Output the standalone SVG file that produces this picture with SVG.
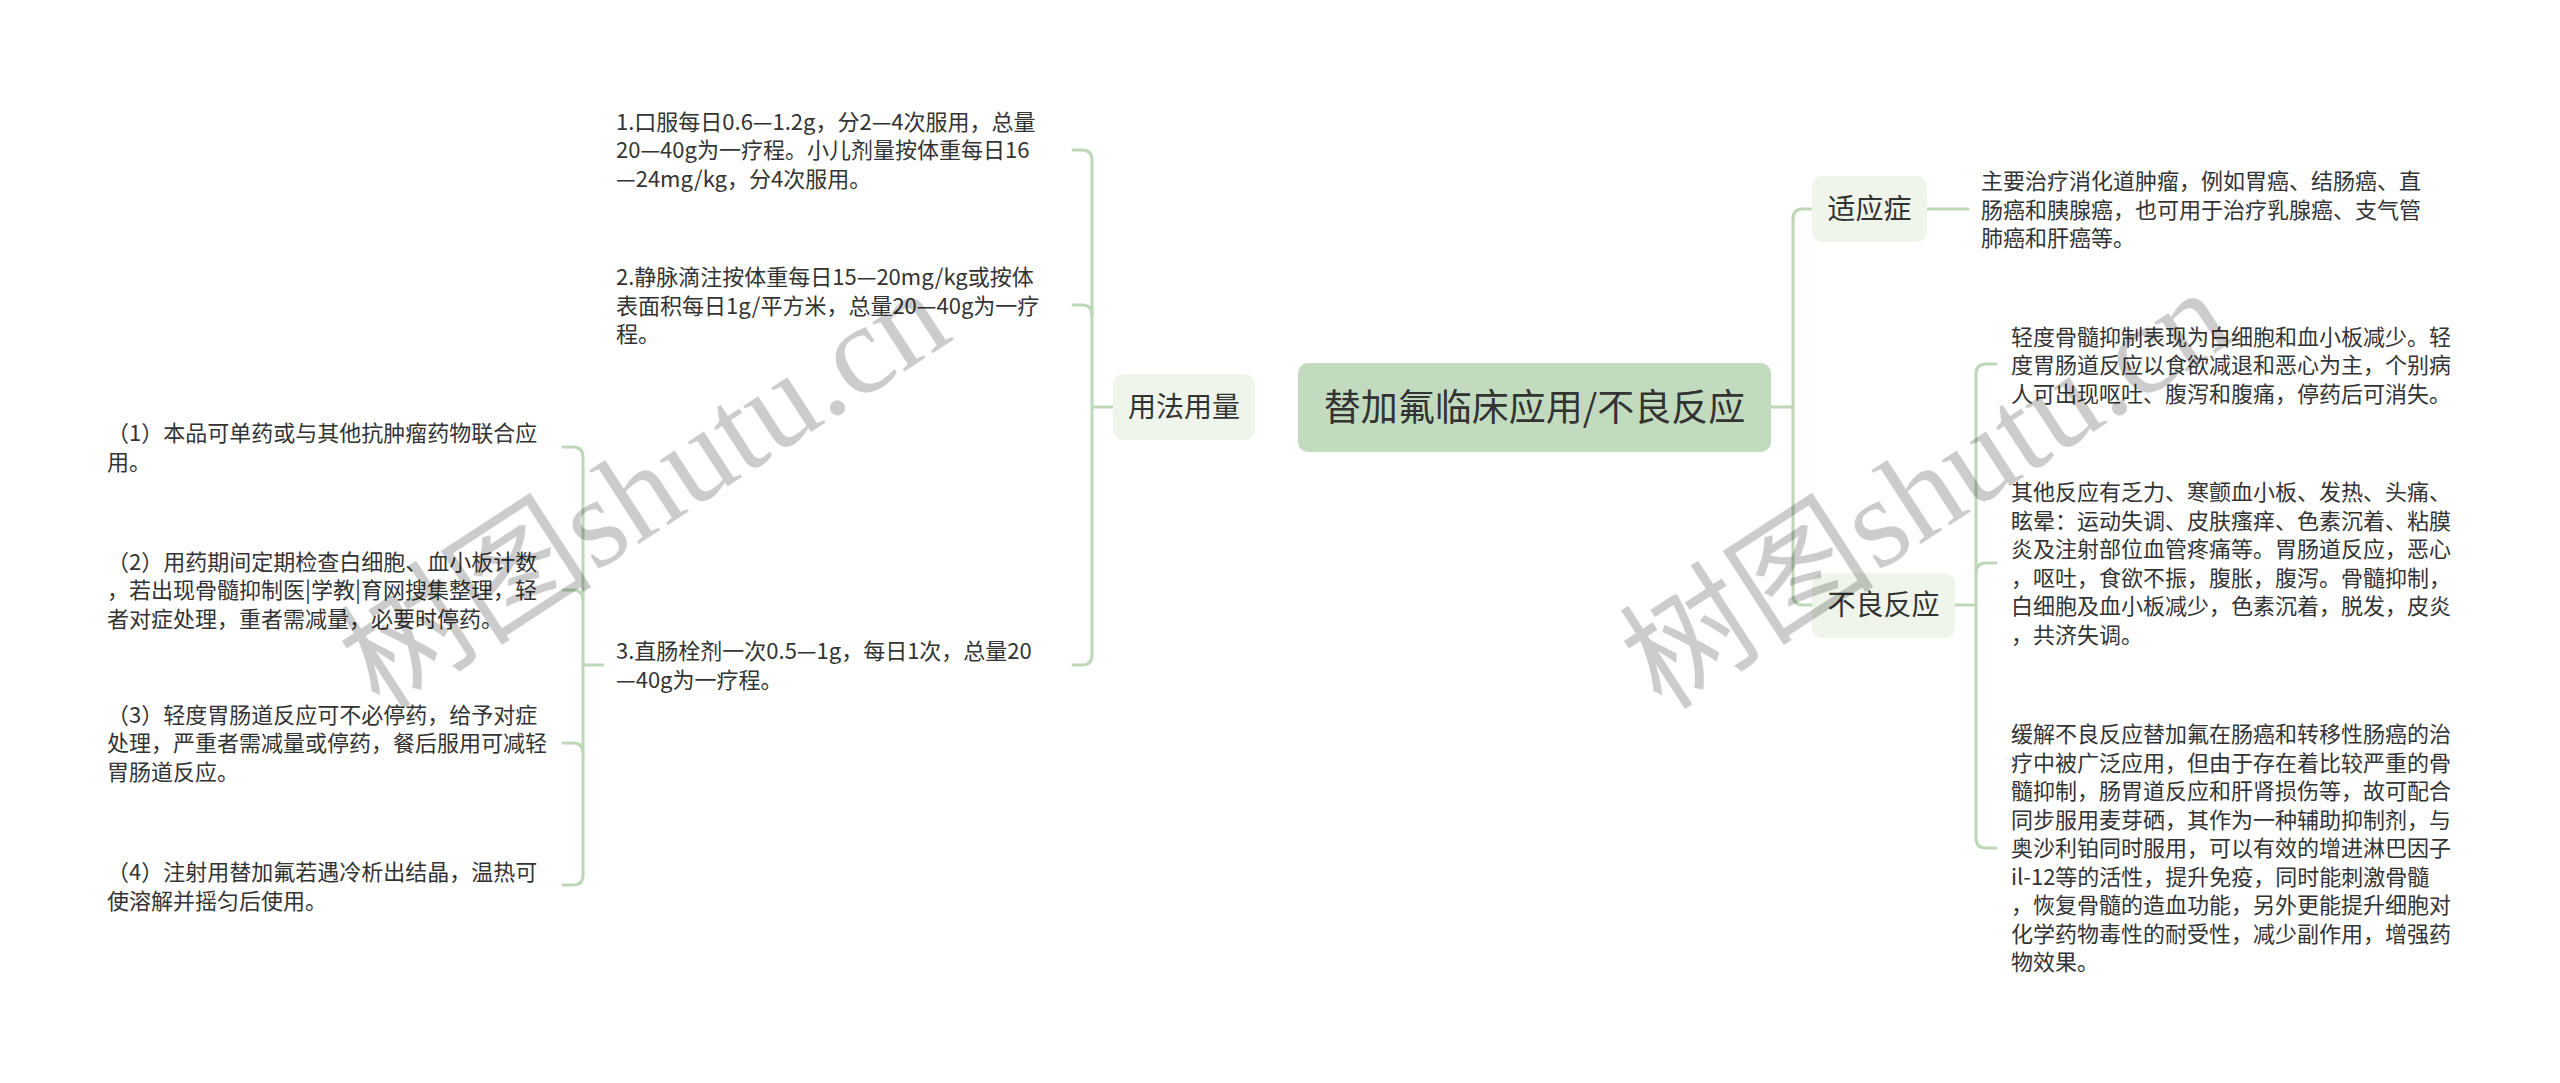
<svg xmlns="http://www.w3.org/2000/svg" width="2560" height="1083" viewBox="0 0 2560 1083">
<style>
.t{font-family:"Noto Sans CJK SC","Liberation Sans",sans-serif;font-size:22px;fill:#333}
.sub{font-family:"Noto Sans CJK SC","Liberation Sans",sans-serif;font-size:28px;fill:#333;text-anchor:middle}
.main{font-family:"Noto Sans CJK SC","Liberation Sans",sans-serif;font-size:37px;fill:#333;text-anchor:middle}
.ln{fill:none;stroke:#bdd7b8;stroke-width:3;stroke-linecap:round;stroke-linejoin:round}
.subbox{fill:#eff5ea}
.mainbox{fill:#c2dbbe}
.wm{font-family:"Liberation Serif","Noto Sans CJK SC",serif;font-size:128px;fill:#000;fill-opacity:0.2}
</style>
<rect width="2560" height="1083" fill="#fff"/>
<g id="connectors">
<path class="ln" d="M1113,407 H1092"/>
<path class="ln" d="M1073,150 H1082 Q1092,150 1092,160 V655 Q1092,665 1082,665 H1073"/>
<path class="ln" d="M1073,305 H1082 Q1092,305 1092,315"/>
<path class="ln" d="M603,665 H583"/>
<path class="ln" d="M563,447 H573 Q583,447 583,457 V875 Q583,885 573,885 H563"/>
<path class="ln" d="M563,590 H573 Q583,590 583,600"/>
<path class="ln" d="M563,743 H573 Q583,743 583,753"/>
<path class="ln" d="M1771,407 H1793"/>
<path class="ln" d="M1812,209 H1803 Q1793,209 1793,219 V595 Q1793,605 1803,605 H1812"/>
<path class="ln" d="M1927,209 H1968"/>
<path class="ln" d="M1955,605 H1976"/>
<path class="ln" d="M1996,364 H1986 Q1976,364 1976,374 V838 Q1976,848 1986,848 H1996"/>
<path class="ln" d="M1996,563 H1986 Q1976,563 1976,573"/>
</g>
<g id="center">
<rect class="mainbox" x="1298" y="363" width="473" height="89" rx="10"/>
<text class="main" x="1534.5" y="421">替加氟临床应用/不良反应</text>
</g>
<g id="usage">
<rect class="subbox" x="1113" y="374" width="142" height="66" rx="10"/>
<text class="sub" x="1184" y="417">用法用量</text>
</g>
<g id="indication">
<rect class="subbox" x="1812" y="176" width="115" height="66" rx="10"/>
<text class="sub" x="1869.5" y="219">适应症</text>
</g>
<g id="adverse">
<rect class="subbox" x="1812" y="573" width="143" height="65" rx="10"/>
<text class="sub" x="1883.5" y="615">不良反应</text>
</g>
<g id="indication-text">
<text class="t" x="1981" y="189">主要治疗消化道肿瘤，例如胃癌、结肠癌、直</text>
<text class="t" x="1981" y="217.5">肠癌和胰腺癌，也可用于治疗乳腺癌、支气管</text>
<text class="t" x="1981" y="246">肺癌和肝癌等。</text>
</g>
<g id="adverse-1">
<text class="t" x="2011" y="344.5">轻度骨髓抑制表现为白细胞和血小板减少。轻</text>
<text class="t" x="2011" y="373">度胃肠道反应以食欲减退和恶心为主，个别病</text>
<text class="t" x="2011" y="401.5">人可出现呕吐、腹泻和腹痛，停药后可消失。</text>
</g>
<g id="adverse-2">
<text class="t" x="2011" y="500">其他反应有乏力、寒颤血小板、发热、头痛、</text>
<text class="t" x="2011" y="528.5">眩晕：运动失调、皮肤瘙痒、色素沉着、粘膜</text>
<text class="t" x="2011" y="557">炎及注射部位血管疼痛等。胃肠道反应，恶心</text>
<text class="t" x="2011" y="585.5">，呕吐，食欲不振，腹胀，腹泻。骨髓抑制，</text>
<text class="t" x="2011" y="614">白细胞及血小板减少，色素沉着，脱发，皮炎</text>
<text class="t" x="2011" y="642.5">，共济失调。</text>
</g>
<g id="adverse-3">
<text class="t" x="2011" y="742">缓解不良反应替加氟在肠癌和转移性肠癌的治</text>
<text class="t" x="2011" y="770.5">疗中被广泛应用，但由于存在着比较严重的骨</text>
<text class="t" x="2011" y="799">髓抑制，肠胃道反应和肝肾损伤等，故可配合</text>
<text class="t" x="2011" y="827.5">同步服用麦芽硒，其作为一种辅助抑制剂，与</text>
<text class="t" x="2011" y="856">奥沙利铂同时服用，可以有效的增进淋巴因子</text>
<text class="t" x="2011" y="884.5">il-12等的活性，提升免疫，同时能刺激骨髓</text>
<text class="t" x="2011" y="913">，恢复骨髓的造血功能，另外更能提升细胞对</text>
<text class="t" x="2011" y="941.5">化学药物毒性的耐受性，减少副作用，增强药</text>
<text class="t" x="2011" y="970">物效果。</text>
</g>
<g id="usage-1">
<text class="t" x="616" y="129.5">1.口服每日0.6—1.2g，分2—4次服用，总量</text>
<text class="t" x="616" y="158">20—40g为一疗程。小儿剂量按体重每日16</text>
<text class="t" x="616" y="186.5">—24mg/kg，分4次服用。</text>
</g>
<g id="usage-2">
<text class="t" x="616" y="285">2.静脉滴注按体重每日15—20mg/kg或按体</text>
<text class="t" x="616" y="313.5">表面积每日1g/平方米，总量20—40g为一疗</text>
<text class="t" x="616" y="342">程。</text>
</g>
<g id="usage-3">
<text class="t" x="616" y="659">3.直肠栓剂一次0.5—1g，每日1次，总量20</text>
<text class="t" x="616" y="687.5">—40g为一疗程。</text>
</g>
<g id="note-1">
<text class="t" x="107" y="441">（1）本品可单药或与其他抗肿瘤药物联合应</text>
<text class="t" x="107" y="469.5">用。</text>
</g>
<g id="note-2">
<text class="t" x="107" y="569.5">（2）用药期间定期检查白细胞、血小板计数</text>
<text class="t" x="107" y="598">，若出现骨髓抑制医|学教|育网搜集整理，轻</text>
<text class="t" x="107" y="626.5">者对症处理，重者需减量，必要时停药。</text>
</g>
<g id="note-3">
<text class="t" x="107" y="722.5">（3）轻度胃肠道反应可不必停药，给予对症</text>
<text class="t" x="107" y="751">处理，严重者需减量或停药，餐后服用可减轻</text>
<text class="t" x="107" y="779.5">胃肠道反应。</text>
</g>
<g id="note-4">
<text class="t" x="107" y="880">（4）注射用替加氟若遇冷析出结晶，温热可</text>
<text class="t" x="107" y="908.5">使溶解并摇匀后使用。</text>
</g>
<g id="watermark">
<text class="wm" transform="translate(380,712) rotate(-33)">树图shutu.cn</text>
<text class="wm" transform="translate(1662,712) rotate(-33)">树图shutu.cn</text>
</g>
</svg>
